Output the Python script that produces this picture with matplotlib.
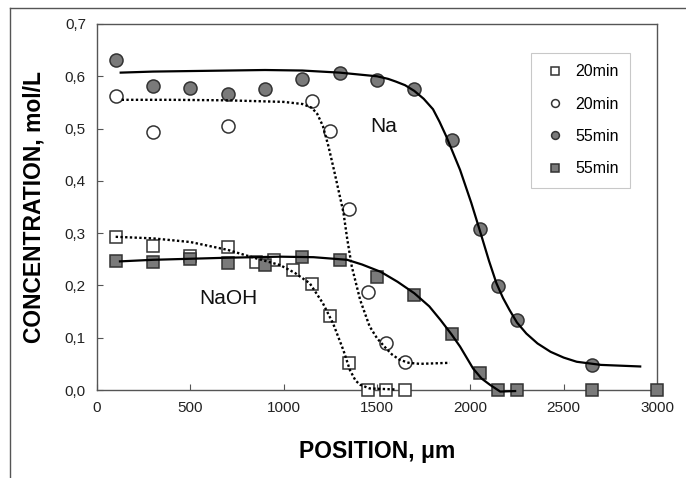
import matplotlib
matplotlib.use("Agg")
import matplotlib.pyplot as plt
from matplotlib.lines import Line2D
from matplotlib.ticker import FuncFormatter

plt.rcParams["font.family"] = ["Liberation Sans", "DejaVu Sans"]

# 测量点
naoh20_x = [100, 300, 500, 700, 850, 950, 1050, 1150, 1250, 1350, 1450, 1550, 1650]
naoh20_y = [0.293, 0.276, 0.256, 0.273, 0.244, 0.248, 0.229, 0.203, 0.142, 0.052, 0.0, 0.0, 0.0]

na20_x = [100, 300, 700, 1150, 1250, 1350, 1450, 1550, 1650]
na20_y = [0.563, 0.493, 0.505, 0.553, 0.495, 0.346, 0.187, 0.090, 0.054]

na55_x = [100, 300, 500, 700, 900, 1100, 1300, 1500, 1700, 1900, 2050, 2150, 2250, 2650]
na55_y = [0.632, 0.582, 0.578, 0.566, 0.576, 0.595, 0.607, 0.593, 0.575, 0.478, 0.307, 0.199, 0.133, 0.048]

naoh55_x = [100, 300, 500, 700, 900, 1100, 1300, 1500, 1700, 1900, 2050, 2150, 2250, 2650, 3000]
naoh55_y = [0.247, 0.244, 0.250, 0.242, 0.239, 0.254, 0.249, 0.217, 0.182, 0.108, 0.033, 0.0, 0.0, 0.0, 0.0]

# 拟合曲线
na55_fit_x = [127, 300, 500, 700, 900, 1100, 1300, 1500, 1560, 1600, 1650, 1700, 1750, 1800,
              1835, 1870, 1945, 2005, 2050, 2100, 2140, 2175, 2210, 2250, 2300, 2360, 2430,
              2500, 2570, 2700, 2910]
na55_fit_y = [0.607, 0.609, 0.610, 0.611, 0.612, 0.611, 0.607, 0.600, 0.595, 0.590, 0.583,
              0.572, 0.557, 0.537, 0.513, 0.486, 0.421, 0.358, 0.306, 0.247, 0.204, 0.176,
              0.153, 0.129, 0.108, 0.089, 0.073, 0.062, 0.054, 0.048, 0.045]

na20_fit_x = [132, 400, 700, 1000, 1100, 1150, 1180, 1210, 1240, 1270, 1300, 1320, 1340,
              1365, 1410, 1460, 1500, 1540, 1580, 1620, 1670, 1730, 1890]
na20_fit_y = [0.555, 0.555, 0.554, 0.551, 0.547, 0.540, 0.528, 0.505, 0.466, 0.420, 0.372,
              0.340, 0.290, 0.236, 0.172, 0.122, 0.099, 0.083, 0.068, 0.058, 0.052, 0.050, 0.052]

naoh20_fit_x = [100, 300, 500, 700, 850, 980, 1060, 1140, 1210, 1265, 1320, 1355, 1385,
                1410, 1460, 1600]
naoh20_fit_y = [0.293, 0.290, 0.283, 0.268, 0.252, 0.239, 0.224, 0.204, 0.166, 0.127,
                0.076, 0.038, 0.018, 0.010, 0.003, 0.001]

naoh55_fit_x = [123, 300, 500, 700, 980, 1160, 1340, 1420, 1520, 1610, 1700, 1780, 1840,
                1900, 1945, 2015, 2060, 2105, 2160, 2240]
naoh55_fit_y = [0.246, 0.249, 0.251, 0.253, 0.255, 0.254, 0.249, 0.240, 0.226, 0.207,
                0.185, 0.160, 0.134, 0.106, 0.083, 0.041, 0.022, 0.010, -0.003, -0.002]

x_ticks = [0, 500, 1000, 1500, 2000, 2500, 3000]
y_ticks = [0.0, 0.1, 0.2, 0.3, 0.4, 0.5, 0.6, 0.7]

GRAY = "#7a7a7a"
EDGE = "#333333"
FRAME = "#555555"

fig = plt.figure(figsize=(6.86, 4.78), dpi=100)
ax = fig.add_axes([97 / 686, 1 - 390 / 478, 560 / 686, 366 / 478])

# 外框
fig.add_artist(Line2D([10 / 686, 1.0], [1 - 8 / 478, 1 - 8 / 478], transform=fig.transFigure,
                      color=FRAME, lw=1.0))
fig.add_artist(Line2D([10 / 686, 10 / 686], [0.0, 1 - 8 / 478], transform=fig.transFigure,
                      color=FRAME, lw=1.0))

ms = 9.4
common = dict(linestyle="none", markeredgecolor=EDGE, markeredgewidth=1.1, clip_on=False)
ax.plot(naoh20_x, naoh20_y, marker="s", markerfacecolor="white", markersize=ms - 0.6,
        label="20min", zorder=3, **common)
ax.plot(na20_x, na20_y, marker="o", markerfacecolor="white", markersize=ms,
        label="20min", zorder=3, **common)
ax.plot(na55_x, na55_y, marker="o", markerfacecolor=GRAY, markersize=ms,
        label="55min", zorder=4, **common)
ax.plot(naoh55_x, naoh55_y, marker="s", markerfacecolor=GRAY, markersize=ms - 0.6,
        label="55min", zorder=4, **common)

dot = (0, (1, 1))
ax.plot(na55_fit_x, na55_fit_y, color="black", lw=1.6, zorder=5, clip_on=False)
ax.plot(naoh55_fit_x, naoh55_fit_y, color="black", lw=1.6, zorder=5, clip_on=False)
ax.plot(na20_fit_x, na20_fit_y, color="black", lw=1.7, ls=dot, zorder=5, clip_on=False)
ax.plot(naoh20_fit_x, naoh20_fit_y, color="black", lw=1.7, ls=dot, zorder=5, clip_on=False)

ax.text(1534, 0.504, "Na", fontsize=15, ha="center", va="center", color="#111111")
ax.text(703, 0.175, "NaOH", fontsize=15, ha="center", va="center", color="#111111")

ax.set_xlim(0, 3000)
ax.set_ylim(0, 0.7)
ax.set_xticks(x_ticks)
ax.set_yticks(y_ticks)
ax.yaxis.set_major_formatter(FuncFormatter(lambda v, p: f"{v:.1f}".replace(".", ",")))
ax.tick_params(direction="in", length=4, width=0.8, colors=FRAME, labelcolor="#222222",
               labelsize=11, pad=8)
for sp in ax.spines.values():
    sp.set_color(FRAME)
    sp.set_linewidth(1.0)

ax.set_xlabel("POSITION, μm", fontsize=16.5, fontweight="bold", labelpad=18)
ax.set_ylabel("CONCENTRATION, mol/L", fontsize=16.5, fontweight="bold", labelpad=14)

leg = ax.legend(loc="upper left", bbox_to_anchor=(0.775, 0.921), fontsize=11.5,
                markerscale=0.6, handlelength=1.6, handletextpad=0.45, labelspacing=1.08,
                borderpad=0.72, fancybox=False, frameon=True, borderaxespad=0)
leg.get_frame().set_edgecolor("#bbbbbb")
leg.get_frame().set_linewidth(0.8)

fig.savefig("out.png", dpi=100, facecolor="white")
